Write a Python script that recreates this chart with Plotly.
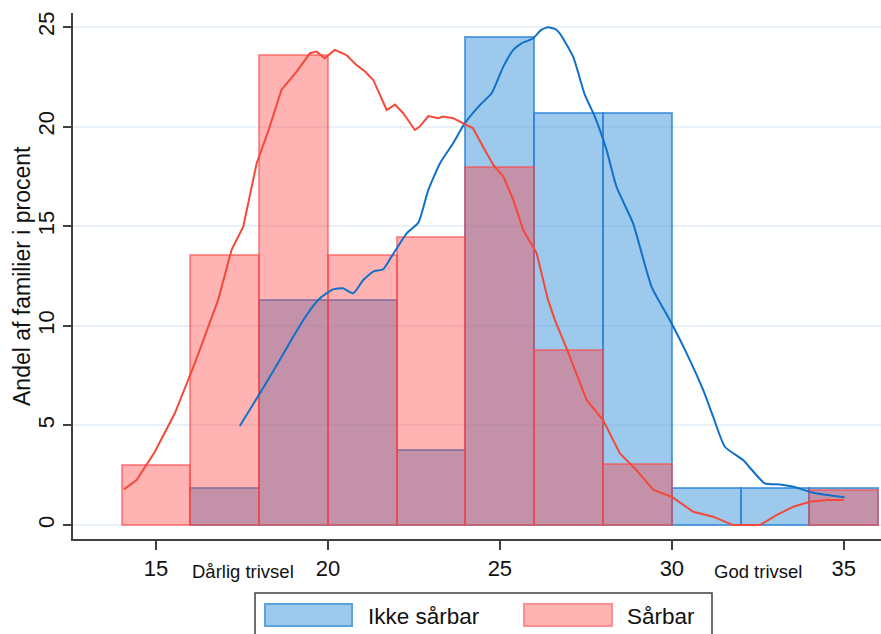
import plotly.graph_objects as go

# ---------------- data ----------------
bin_centers = [15, 17, 19, 21, 23, 25, 27, 29, 31, 33, 35]
ikke_pct = [0.0, 1.86, 11.3, 11.3, 3.77, 24.5, 20.7, 20.7, 1.86, 1.86, 1.86]
saarbar_pct = [3.0, 13.55, 23.6, 13.55, 14.46, 17.97, 8.78, 3.05, 0.0, 0.0, 1.74]

saar_kx = [14.07, 14.44, 14.97, 15.55, 16.13, 16.81, 17.20, 17.54, 17.93, 18.26, 18.65, 19.09,
           19.48, 19.67, 19.91, 20.20, 20.54, 20.83, 21.08, 21.32, 21.71, 21.95, 22.19, 22.53,
           22.67, 22.92, 23.21, 23.35, 23.64, 23.93, 24.22, 24.51, 24.81, 25.10, 25.39, 25.68,
           26.07, 26.40, 26.60, 26.94, 27.23, 27.52, 28.00, 28.49, 28.97, 29.46, 29.99, 30.62,
           31.20, 31.78, 32.56, 33.04, 33.53, 34.01, 34.50, 35.00]
saar_ky = [1.79, 2.26, 3.68, 5.61, 8.12, 11.30, 13.81, 14.97, 18.16, 19.74, 21.84, 22.76,
           23.68, 23.76, 23.43, 23.85, 23.59, 23.09, 22.76, 22.34, 20.83, 21.10, 20.67, 19.83,
           20.00, 20.53, 20.42, 20.50, 20.42, 20.17, 19.91, 18.99, 18.07, 17.49, 16.32, 14.81,
           13.64, 11.30, 10.29, 8.87, 7.62, 6.28, 5.27, 3.60, 2.76, 1.76, 1.42, 0.67,
           0.42, 0.00, 0.00, 0.50, 0.92, 1.17, 1.26, 1.26]

ikke_kx = [17.44, 18.17, 18.60, 18.99, 19.38, 19.77, 20.15, 20.44, 20.74, 21.03, 21.32, 21.61,
           21.85, 22.29, 22.63, 22.92, 23.26, 23.64, 23.98, 24.42, 24.76, 25.10, 25.39, 25.63,
           25.97, 26.20, 26.40, 26.60, 26.74, 27.13, 27.47, 27.76, 28.10, 28.39, 28.87, 29.41,
           29.94, 30.43, 30.91, 31.20, 31.54, 32.07, 32.70, 33.14, 33.53, 34.11, 35.02]
ikke_ky = [4.97, 7.03, 8.28, 9.45, 10.54, 11.38, 11.83, 11.88, 11.63, 12.30, 12.72, 12.84,
           13.47, 14.64, 15.18, 16.82, 18.16, 19.16, 20.17, 21.08, 21.67, 23.01, 23.85, 24.18,
           24.43, 24.85, 24.98, 24.90, 24.68, 23.51, 21.59, 20.50, 18.83, 16.98, 15.15, 11.96,
           10.29, 8.62, 6.78, 5.44, 3.93, 3.26, 2.09, 2.04, 1.92, 1.62, 1.39]

x_ticks = [15, 20, 25, 30, 35]
y_ticks = [0, 5, 10, 15, 20, 25]
series_names = ["Ikke sårbar", "Sårbar"]
y_title = "Andel af familier i procent"
low_label = "Dårlig trivsel"
high_label = "God trivsel"
low_label_x = 17.54
high_label_x = 32.49

# ---------------- styles ----------------
FONT = "Liberation Sans, Arial, sans-serif"
BLUE_FILL = "rgba(59,147,219,0.5)"
BLUE_EDGE = "rgba(40,130,215,0.72)"
RED_FILL = "rgba(255,65,65,0.4)"
RED_EDGE = "rgba(255,70,70,0.55)"
BLUE_LINE = "#1170C8"
RED_LINE = "#F4483A"

W, H = 881, 634
ML, MR, MT, MB = 73, 0, 13, 95
PW, PH = W - ML - MR, H - MT - MB


def px(xp):
    return (xp - ML) / PW


def py(yp):
    return (H - MB - yp) / PH


fig = go.Figure()

bx = [c for c, v in zip(bin_centers, ikke_pct) if v > 0]
by = [v for v in ikke_pct if v > 0]
fig.add_trace(go.Bar(x=bx, y=by, width=2, name=series_names[0],
                     marker=dict(color=BLUE_FILL, line=dict(color=BLUE_EDGE, width=2)),
                     showlegend=False))
rx = [c for c, v in zip(bin_centers, saarbar_pct) if v > 0]
ry = [v for v in saarbar_pct if v > 0]
fig.add_trace(go.Bar(x=rx, y=ry, width=2, name=series_names[1],
                     marker=dict(color=RED_FILL, line=dict(color=RED_EDGE, width=2)),
                     showlegend=False))

fig.add_trace(go.Scatter(x=ikke_kx, y=ikke_ky, mode="lines",
                         line=dict(color=BLUE_LINE, width=2, shape="spline", smoothing=0.5),
                         showlegend=False))
fig.add_trace(go.Scatter(x=saar_kx, y=saar_ky, mode="lines",
                         line=dict(color=RED_LINE, width=2),
                         showlegend=False))

axis_col = "#404040"
fig.update_layout(
    width=W, height=H,
    margin=dict(l=ML, r=MR, t=MT, b=MB),
    paper_bgcolor="white", plot_bgcolor="white",
    barmode="overlay", bargap=0,
    font=dict(family=FONT, size=22, color="#111111"),
    xaxis=dict(range=[12.59, 36.08], tickvals=x_ticks, ticks="outside", ticklen=9,
               tickwidth=1.5, tickcolor=axis_col, showline=True, linecolor=axis_col,
               linewidth=2, showgrid=False, zeroline=False,
               tickfont=dict(size=22, family=FONT, color="#111111")),
    yaxis=dict(range=[-0.70, 25.70], tickvals=y_ticks, ticks="outside", ticklen=8,
               tickwidth=1.5, tickcolor=axis_col, showline=True, linecolor=axis_col,
               linewidth=2, showgrid=True, gridcolor="#EAF0F8", gridwidth=1.5,
               zeroline=False, tickangle=-90,
               tickfont=dict(size=22, family=FONT, color="#111111")),
)

annotations = [
    dict(text=y_title, xref="paper", yref="paper", x=px(22), y=0.5, textangle=-90,
         showarrow=False, xanchor="center", yanchor="middle",
         font=dict(size=23, family=FONT, color="#111111")),
    dict(text=low_label, xref="x", yref="paper", x=low_label_x, y=py(571),
         showarrow=False, xanchor="center", yanchor="middle",
         font=dict(size=18.5, family=FONT, color="#111111")),
    dict(text=high_label, xref="x", yref="paper", x=high_label_x, y=py(571),
         showarrow=False, xanchor="center", yanchor="middle",
         font=dict(size=18.5, family=FONT, color="#111111")),
    dict(text=series_names[0], xref="paper", yref="paper", x=px(366), y=py(616),
         showarrow=False, xanchor="left", yanchor="middle",
         font=dict(size=22.5, family=FONT, color="#111111")),
    dict(text=series_names[1], xref="paper", yref="paper", x=px(625), y=py(616),
         showarrow=False, xanchor="left", yanchor="middle",
         font=dict(size=22.5, family=FONT, color="#111111")),
]

shapes = [
    dict(type="rect", xref="paper", yref="paper", x0=px(255), x1=px(712), y0=py(593), y1=py(660),
         line=dict(color="#404040", width=1.5), fillcolor="rgba(0,0,0,0)"),
    dict(type="rect", xref="paper", yref="paper", x0=px(265), x1=px(352), y0=py(604), y1=py(626),
         line=dict(color="#5BA3E0", width=2), fillcolor="#9DC9ED"),
    dict(type="rect", xref="paper", yref="paper", x0=px(524), x1=px(612), y0=py(604), y1=py(626),
         line=dict(color="#FF8F8F", width=2), fillcolor="#FFB3B3"),
]

fig.update_layout(annotations=annotations, shapes=shapes)
fig.write_html("out.html", config={"displayModeBar": False},
               post_script="document.body.style.margin='0';document.body.style.overflow='hidden';")
